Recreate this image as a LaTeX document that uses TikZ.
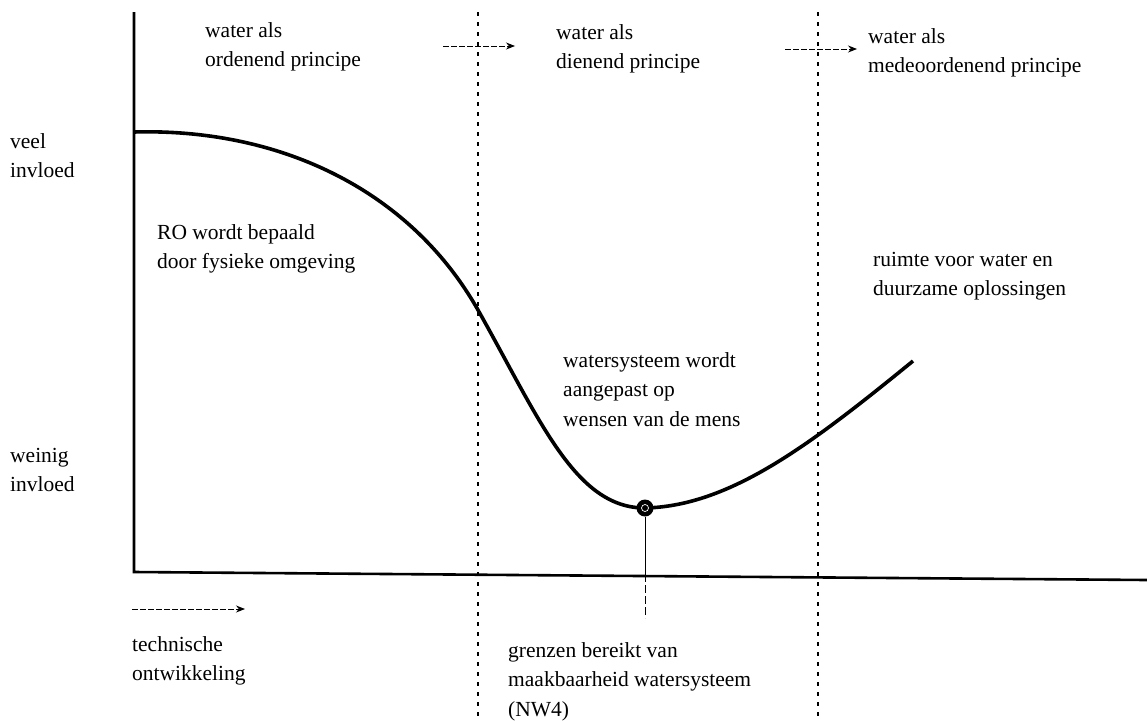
\documentclass[tikz,border=0pt]{standalone}
\usepackage{fontspec}
\setmainfont{Liberation Serif}
\usetikzlibrary{arrows.meta}
\begin{document}
\begin{tikzpicture}[x=1pt,y=-1pt,
  lbl/.style={anchor=north west,inner sep=0pt,align=left,font=\fontsize{21.5}{29.5}\selectfont},
  axisline/.style={line width=2.6pt},
  divider/.style={line width=2pt,dash pattern=on 4pt off 6pt},
  shiftarrow/.style={line width=0.9pt,dash pattern=on 6pt off 2pt,-{Stealth[length=9pt,width=7pt]}},
  curveline/.style={line width=3.6pt},
  marker/.style={circle,fill=black,minimum size=17pt,inner sep=0pt}]
\useasboundingbox (0,0) rectangle (1147,720);
% axes
\coordinate (O) at (134,572);
\coordinate (ytop) at (134,12);
\coordinate (xend) at (1147,580);
\draw[axisline] (ytop) -- (O) -- (xend);
% dividers
\coordinate (d1t) at (478,12); \coordinate (d1b) at (478,720);
\coordinate (d2t) at (818,12); \coordinate (d2b) at (818,720);
\draw[divider] (d1t) -- (d1b);
\draw[divider] (d2t) -- (d2b);
% shift arrows
\coordinate (a1s) at (443,46); \coordinate (a1e) at (515,46);
\coordinate (a2s) at (785,49); \coordinate (a2e) at (857,49);
\draw[shiftarrow] (a1s) -- (a1e);
\draw[shiftarrow] (a2s) -- (a2e);
% technical development arrow
\coordinate (t1s) at (132,609); \coordinate (t1e) at (245,609);
\draw[shiftarrow] (t1s) -- (t1e);
% curve
\coordinate (c0) at (134,132);
\coordinate (c1) at (478,310);
\coordinate (c3) at (913,361);
\coordinate (cm) at (645,508);
\draw[curveline] (c0) .. controls (280,128) and (410,190) .. (c1)
  .. controls (540,420) and (575,508) .. (cm)
  .. controls (730,506) and (810,445) .. (c3);
\node[marker] (nw) at (cm) {};
\draw[white,line width=0.7pt] (nw.center) circle (3.5pt);
% pointer line from marker
\coordinate (px) at (645,574);
\coordinate (pl) at (645,618);
\draw[line width=0.9pt] (nw.south) -- (px);
\draw[line width=0.9pt,dash pattern=on 8pt off 3pt] (px) -- (pl);
% labels
\node[lbl] (p1) at (205,22) {water als\\ordenend principe};
\node[lbl] (p2) at (556,24) {water als\\dienend principe};
\node[lbl] (p3) at (868,28) {water als\\medeoordenend principe};
\node[lbl] (veel) at (10,133) {veel\\invloed};
\node[lbl] (weinig) at (10,448) {weinig\\invloed};
\node[lbl] (ro) at (157,224) {RO wordt bepaald\\door fysieke omgeving};
\node[lbl] (ruimte) at (873,252) {ruimte voor water en\\duurzame oplossingen};
\node[lbl] (ws) at (563,352) {watersysteem wordt\\aangepast op\\wensen van de mens};
\node[lbl] (tech) at (132,636) {technische\\ontwikkeling};
\node[lbl] (gr) at (508,642) {grenzen bereikt van\\maakbaarheid watersysteem\\(NW4)};
\end{tikzpicture}
\end{document}
